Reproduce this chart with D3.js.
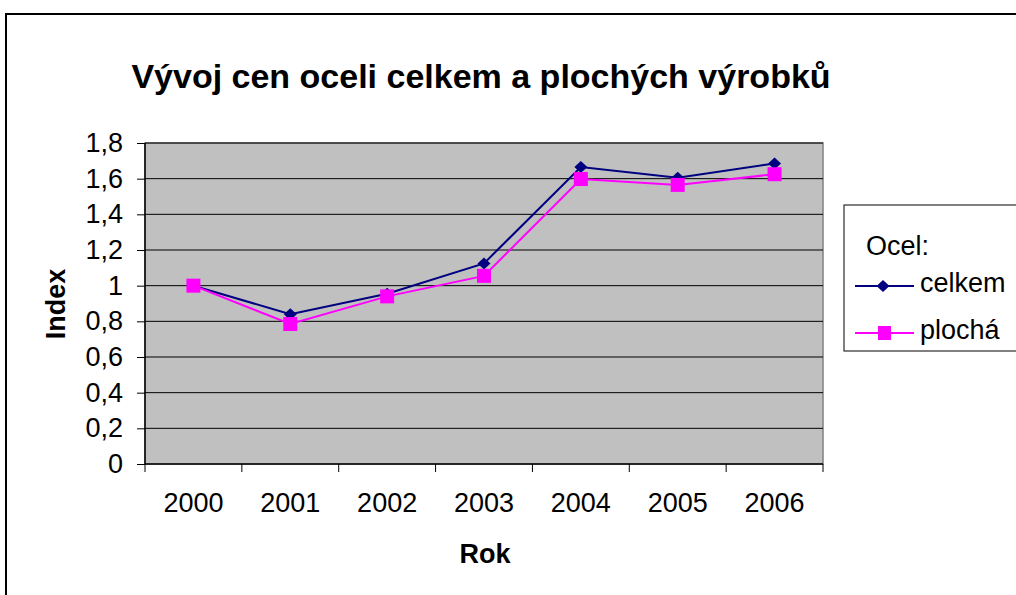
<!DOCTYPE html>
<html><head><meta charset="utf-8">
<script src="https://cdn.jsdelivr.net/npm/d3@7"></script>
<style>body{margin:0;background:#fff;}svg{display:block;font-family:Arial,"Liberation Sans",sans-serif;}</style>
</head><body><svg id="c" width="1016" height="595"></svg>
<script>
const years = ["2000","2001","2002","2003","2004","2005","2006"];
const celkem = [1.0, 0.84, 0.955, 1.125, 1.665, 1.605, 1.685];
const plocha = [1.0, 0.785, 0.94, 1.055, 1.598, 1.565, 1.625];
const yTicks = [0,0.2,0.4,0.6,0.8,1,1.2,1.4,1.6,1.8];
const seriesNames = ["celkem","plochá"];
const colors = ["#000080","#ff00ff"];
const FONT = "Arial,'Liberation Sans',sans-serif";

const svg = d3.select("#c");
svg.append("rect").attr("x",6).attr("y",14).attr("width",1200).attr("height",800)
  .attr("fill","#fff").attr("stroke","#000").attr("stroke-width",2);

const L=145,R=823,T=143,B=464;
const x = d3.scaleBand().domain(years).range([L,R]);
const y = d3.scaleLinear().domain([0,1.8]).range([B,T]);
const fmt = d => String(d).replace(".",",");

svg.append("rect").attr("x",L).attr("y",T).attr("width",R-L).attr("height",B-T)
  .attr("fill","#c0c0c0").attr("stroke","#808080").attr("stroke-width",1.5);

svg.append("g").selectAll("line").data(yTicks.filter(d=>d>0)).join("line")
  .attr("x1",L).attr("x2",R).attr("y1",d=>y(d)).attr("y2",d=>y(d))
  .attr("stroke","#000").attr("stroke-width",1);

const ya = svg.append("g").attr("transform",`translate(${L},0)`)
  .call(d3.axisLeft(y).tickValues(yTicks).tickFormat(fmt).tickSize(8).tickPadding(14));
ya.select(".domain").attr("d",`M0,${T}V${B}`).attr("stroke","#000").attr("stroke-width",1.5);
ya.selectAll("text").attr("font-size",27).attr("fill","#000").attr("font-family",FONT);

const xa = svg.append("g").attr("transform",`translate(0,${B})`)
  .call(d3.axisBottom(x).tickSize(0).tickPadding(29));
xa.select(".domain").attr("d",`M${L},0H${R}`).attr("stroke","#000").attr("stroke-width",1.5);
xa.selectAll("text").attr("font-size",27).attr("fill","#000").attr("font-family",FONT);
svg.append("g").selectAll("line").data(years.concat(["end"])).join("line")
  .attr("x1",(d,i)=>L+i*x.step()).attr("x2",(d,i)=>L+i*x.step())
  .attr("y1",B).attr("y2",B+8).attr("stroke","#000");

const diamondPath = "M0,-6L6.5,0L0,6L-6.5,0Z";
const cx = i => x(years[i])+x.bandwidth()/2;
const line = d3.line().x((d,i)=>cx(i)).y(d=>y(d));
[celkem, plocha].forEach((s,k)=>{
  svg.append("path").attr("d",line(s)).attr("fill","none").attr("stroke",colors[k]).attr("stroke-width",2);
});
svg.append("g").selectAll("path").data(celkem).join("path")
  .attr("d",diamondPath).attr("fill",colors[0])
  .attr("transform",(d,i)=>`translate(${cx(i)},${y(d)})`);
svg.append("g").selectAll("rect").data(plocha).join("rect")
  .attr("x",(d,i)=>cx(i)-7).attr("y",d=>y(d)-7)
  .attr("width",14).attr("height",14).attr("fill",colors[1]);

svg.append("text").attr("x",481).attr("y",88).attr("text-anchor","middle")
  .attr("font-size",34).attr("font-weight","bold").text("Vývoj cen oceli celkem a plochých výrobků");
svg.append("text").attr("x",485).attr("y",563).attr("text-anchor","middle")
  .attr("font-size",27).attr("font-weight","bold").text("Rok");
svg.append("text").attr("transform","translate(65,304) rotate(-90)").attr("text-anchor","middle")
  .attr("font-size",27).attr("font-weight","bold").text("Index");

// legend
const lg = svg.append("g");
lg.append("rect").attr("x",844).attr("y",205).attr("width",200).attr("height",146)
  .attr("fill","#fff").attr("stroke","#000").attr("stroke-width",1);
lg.append("text").attr("x",866).attr("y",255).attr("font-size",27).text("Ocel:");
seriesNames.forEach((n,k)=>{
  const yy = 286 + k*47;
  lg.append("line").attr("x1",855).attr("x2",914).attr("y1",yy).attr("y2",yy).attr("stroke",colors[k]).attr("stroke-width",2);
  if(k===0) lg.append("path").attr("d",diamondPath).attr("fill",colors[0]).attr("transform",`translate(883,${yy})`);
  else lg.append("rect").attr("x",878).attr("y",yy-7).attr("width",13).attr("height",14).attr("fill",colors[1]);
  lg.append("text").attr("x",920).attr("y",yy+6).attr("font-size",27).text(n);
});
</script></body></html>
